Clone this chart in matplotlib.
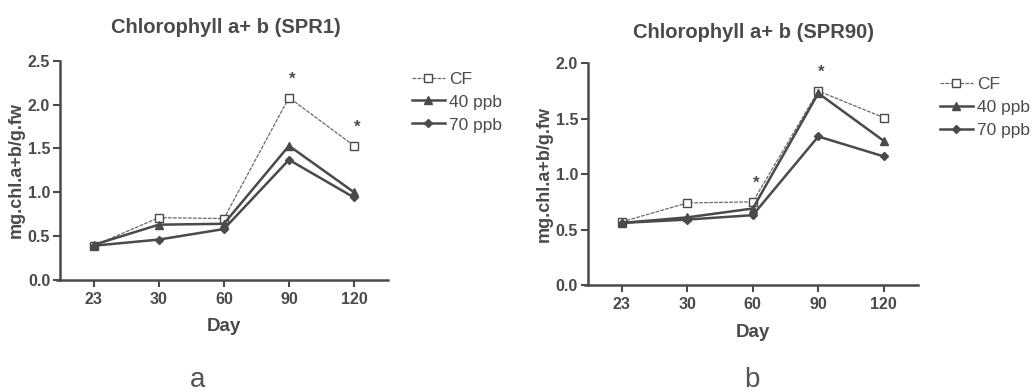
import matplotlib
matplotlib.use('Agg')
import matplotlib.pyplot as plt

plt.rcParams['font.family'] = ['Liberation Sans', 'DejaVu Sans']

days = ['23', '30', '60', '90', '120']
series_names = ['CF', '40 ppb', '70 ppb']

# SPR1
spr1_cf = [0.39, 0.71, 0.70, 2.08, 1.53]
spr1_40 = [0.40, 0.63, 0.64, 1.53, 1.00]
spr1_70 = [0.39, 0.46, 0.58, 1.37, 0.94]
spr1_stars = [3, 4]

# SPR90
spr90_cf = [0.57, 0.74, 0.75, 1.75, 1.51]
spr90_40 = [0.56, 0.61, 0.69, 1.73, 1.30]
spr90_70 = [0.56, 0.59, 0.63, 1.34, 1.16]
spr90_stars = [2, 3]

grey = '#4a4a4a'
styles = [
    dict(marker='s', mfc='white', mec=grey, ms=6, lw=0.9, ls=(0, (3, 1)), color='#6a6a6a'),
    dict(marker='^', mfc=grey, mec=grey, ms=6, lw=1.8, ls='-', color=grey),
    dict(marker='D', mfc=grey, mec=grey, ms=4, lw=1.8, ls='-', color=grey),
]

fig = plt.figure(figsize=(10.33, 3.92), dpi=100)


def panel(rect, title, title_xy, data, stars, ymax, yticks, letter, letter_x, leg_xy):
    ax = fig.add_axes(rect)
    x = list(range(len(days)))
    for vals, st, name in zip(data, styles, series_names):
        ax.plot(x, vals, label=name, **st)
    cf = data[0]
    for i in stars:
        ax.text(i + 0.05, cf[i] + ymax * 0.05, '*', ha='center', va='bottom',
                fontsize=12, color=grey, fontweight='bold')
    ax.set_xlim(-0.52, 4.52)
    ax.set_ylim(0, ymax)
    ax.set_xticks(x)
    ax.set_xticklabels(days)
    ax.set_yticks(yticks)
    ax.set_yticklabels(['%.1f' % t for t in yticks])
    for s in ['top', 'right']:
        ax.spines[s].set_visible(False)
    for s in ['left', 'bottom']:
        ax.spines[s].set_color(grey)
        ax.spines[s].set_linewidth(1.8)
    ax.spines['bottom'].set_bounds(-0.57, 4.52)
    ax.tick_params(direction='out', length=5, width=1.5, color=grey,
                   labelcolor=grey, labelsize=11.5, pad=2)
    ax.tick_params(axis='x', pad=4)
    for lab in ax.get_xticklabels() + ax.get_yticklabels():
        lab.set_fontweight('bold')
    fig.text(title_xy[0], title_xy[1], title, ha='center', va='center',
             fontsize=14.5, fontweight='bold', color=grey)
    ax.set_xlabel('Day', fontsize=13.5, fontweight='bold', color=grey, labelpad=8)
    ax.set_ylabel('mg.chl.a+b/g.fw', fontsize=13, fontweight='bold', color=grey, labelpad=2)
    leg = ax.legend(loc='upper left', bbox_to_anchor=leg_xy, frameon=False,
                    fontsize=12.5, handlelength=1.9, handletextpad=0.25,
                    labelspacing=0.45, borderaxespad=0)
    for t in leg.get_texts():
        t.set_color(grey)
    fig.text(letter_x, 0.03, letter, ha='center', va='center', fontsize=20, color='#555555')
    return ax


panel([0.058, 0.286, 0.3175, 0.559], 'Chlorophyll a+ b (SPR1)', (0.219, 0.929),
      [spr1_cf, spr1_40, spr1_70], spr1_stars, 2.5,
      [0.0, 0.5, 1.0, 1.5, 2.0, 2.5], 'a', 0.191, (1.052, 0.983))
panel([0.569, 0.273, 0.3195, 0.5655], 'Chlorophyll a+ b (SPR90)', (0.729, 0.916),
      [spr90_cf, spr90_40, spr90_70], spr90_stars, 2.0,
      [0.0, 0.5, 1.0, 1.5, 2.0], 'b', 0.728, (1.045, 0.968))

fig.savefig('out.png', dpi=100)
